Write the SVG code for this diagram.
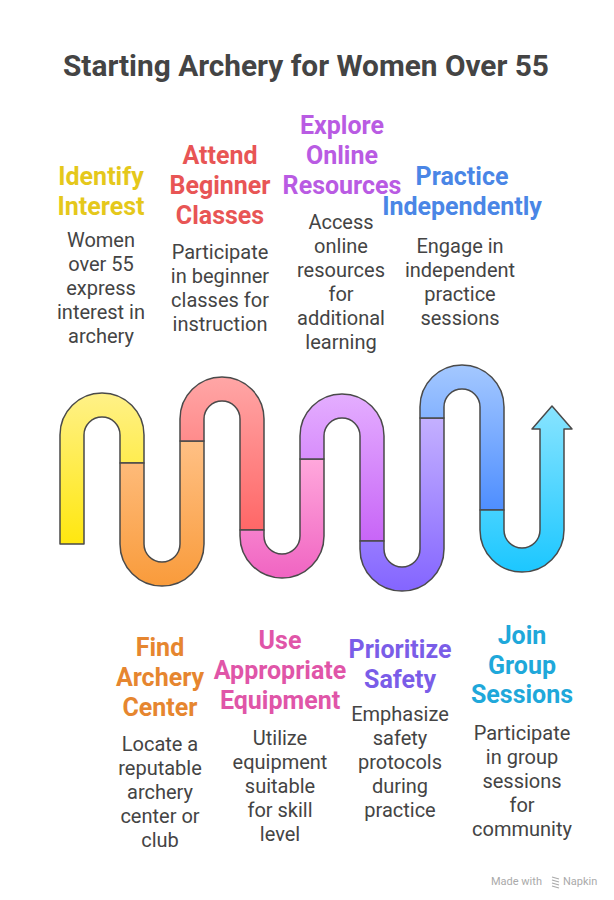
<svg xmlns="http://www.w3.org/2000/svg" width="614" height="900" viewBox="0 0 614 900">
<defs>
<linearGradient id="gY" x1="0" y1="0" x2="0" y2="1"><stop offset="0" stop-color="#FFF188"/><stop offset="1" stop-color="#FFE70F"/></linearGradient>
<linearGradient id="gO" x1="0" y1="0" x2="0" y2="1"><stop offset="0" stop-color="#FFC084"/><stop offset="1" stop-color="#F99B3B"/></linearGradient>
<linearGradient id="gR" x1="0" y1="0" x2="0" y2="1"><stop offset="0" stop-color="#FFA6A6"/><stop offset="1" stop-color="#FF6767"/></linearGradient>
<linearGradient id="gP" x1="0" y1="0" x2="0" y2="1"><stop offset="0" stop-color="#FFA8DC"/><stop offset="1" stop-color="#F064C2"/></linearGradient>
<linearGradient id="gU" x1="0" y1="0" x2="0" y2="1"><stop offset="0" stop-color="#E4AEFF"/><stop offset="1" stop-color="#C865F7"/></linearGradient>
<linearGradient id="gV" x1="0" y1="0" x2="0" y2="1"><stop offset="0" stop-color="#C4B0FF"/><stop offset="1" stop-color="#8465FF"/></linearGradient>
<linearGradient id="gB" x1="0" y1="0" x2="0" y2="1"><stop offset="0" stop-color="#A4C8FF"/><stop offset="1" stop-color="#4E8EFF"/></linearGradient>
<linearGradient id="gC" x1="0" y1="0" x2="0" y2="1"><stop offset="0" stop-color="#88E4FF"/><stop offset="1" stop-color="#1CC7FF"/></linearGradient>
</defs>
<style>
.seg{stroke:#4a4a4a;stroke-width:1.5;stroke-linejoin:round}
.title{font-family:Roboto,"Liberation Sans",sans-serif;font-weight:700;font-size:29.8px;fill:#444;text-anchor:middle}
.h{font-family:Roboto,"Liberation Sans",sans-serif;font-weight:700;font-size:25px;text-anchor:middle}
.d{font-family:Roboto,"Liberation Sans",sans-serif;font-size:20px;fill:#444;text-anchor:middle}
.f{font-family:Roboto,"Liberation Sans",sans-serif;font-size:11px;fill:#aaa}
</style>
<rect width="614" height="900" fill="#fff"/>
<text class="title" x="306" y="76">Starting Archery for Women Over 55</text>

<g id="connectors">
<path class="seg" fill="url(#gY)" d="M60,544 L60,435 A42,42 0 0 1 144,435 L144,463 L120,463 L120,435 A18,18 0 0 0 84,435 L84,544 Z"/>
<path class="seg" fill="url(#gO)" d="M120,463 L120,544 A42,42 0 0 0 204,544 L204,441 L180,441 L180,544 A18,18 0 0 1 144,544 L144,463 Z"/>
<path class="seg" fill="url(#gR)" d="M180,441 L180,419 A42,42 0 0 1 264,419 L264,530 L240,530 L240,419 A18,18 0 0 0 204,419 L204,441 Z"/>
<path class="seg" fill="url(#gP)" d="M240,530 L240,536 A42,42 0 0 0 324,536 L324,459 L300,459 L300,536 A18,18 0 0 1 264,536 L264,530 Z"/>
<path class="seg" fill="url(#gU)" d="M300,459 L300,436 A42,42 0 0 1 384,436 L384,541 L360,541 L360,436 A18,18 0 0 0 324,436 L324,459 Z"/>
<path class="seg" fill="url(#gV)" d="M360,541 L360,549 A42,42 0 0 0 444,549 L444,418 L420,418 L420,549 A18,18 0 0 1 384,549 L384,541 Z"/>
<path class="seg" fill="url(#gB)" d="M420,418 L420,407 A42,42 0 0 1 504,407 L504,510 L480,510 L480,407 A18,18 0 0 0 444,407 L444,418 Z"/>
<path class="seg" fill="url(#gC)" d="M480,510 L480,530 A42,42 0 0 0 564,530 L564,429 L572,429 L552,406 L532,429 L540,429 L540,530 A18,18 0 0 1 504,530 L504,510 Z"/>
</g>

<g id="identify-interest">
<text class="h" fill="#E5C81B" x="101" y="185">Identify</text>
<text class="h" fill="#E5C81B" x="101" y="215">Interest</text>
<text class="d" x="101" y="247">Women</text>
<text class="d" x="101" y="271">over 55</text>
<text class="d" x="101" y="295">express</text>
<text class="d" x="101" y="319">interest in</text>
<text class="d" x="101" y="343">archery</text>
</g>

<g id="attend-beginner-classes">
<text class="h" fill="#E85555" x="220" y="164">Attend</text>
<text class="h" fill="#E85555" x="220" y="194">Beginner</text>
<text class="h" fill="#E85555" x="220" y="224">Classes</text>
<text class="d" x="220" y="259">Participate</text>
<text class="d" x="220" y="283">in beginner</text>
<text class="d" x="220" y="307">classes for</text>
<text class="d" x="220" y="331">instruction</text>
</g>

<g id="explore-online-resources">
<text class="h" fill="#B95BE3" x="342" y="134">Explore</text>
<text class="h" fill="#B95BE3" x="342" y="164">Online</text>
<text class="h" fill="#B95BE3" x="342" y="194">Resources</text>
<text class="d" x="341" y="229">Access</text>
<text class="d" x="341" y="253">online</text>
<text class="d" x="341" y="277">resources</text>
<text class="d" x="341" y="301">for</text>
<text class="d" x="341" y="325">additional</text>
<text class="d" x="341" y="349">learning</text>
</g>

<g id="practice-independently">
<text class="h" fill="#4A86E6" x="462" y="185">Practice</text>
<text class="h" fill="#4A86E6" x="462" y="215">Independently</text>
<text class="d" x="460" y="253">Engage in</text>
<text class="d" x="460" y="277">independent</text>
<text class="d" x="460" y="301">practice</text>
<text class="d" x="460" y="325">sessions</text>
</g>

<g id="find-archery-center">
<text class="h" fill="#E6862F" x="160" y="656">Find</text>
<text class="h" fill="#E6862F" x="160" y="686">Archery</text>
<text class="h" fill="#E6862F" x="160" y="716">Center</text>
<text class="d" x="160" y="751">Locate a</text>
<text class="d" x="160" y="775">reputable</text>
<text class="d" x="160" y="799">archery</text>
<text class="d" x="160" y="823">center or</text>
<text class="d" x="160" y="847">club</text>
</g>

<g id="use-appropriate-equipment">
<text class="h" fill="#E055A8" x="280" y="649">Use</text>
<text class="h" fill="#E055A8" x="280" y="679">Appropriate</text>
<text class="h" fill="#E055A8" x="280" y="709">Equipment</text>
<text class="d" x="280" y="745">Utilize</text>
<text class="d" x="280" y="769">equipment</text>
<text class="d" x="280" y="793">suitable</text>
<text class="d" x="280" y="817">for skill</text>
<text class="d" x="280" y="841">level</text>
</g>

<g id="prioritize-safety">
<text class="h" fill="#7A5DE8" x="400" y="658">Prioritize</text>
<text class="h" fill="#7A5DE8" x="400" y="688">Safety</text>
<text class="d" x="400" y="721">Emphasize</text>
<text class="d" x="400" y="745">safety</text>
<text class="d" x="400" y="769">protocols</text>
<text class="d" x="400" y="793">during</text>
<text class="d" x="400" y="817">practice</text>
</g>

<g id="join-group-sessions">
<text class="h" fill="#1FA8DA" x="522" y="644">Join</text>
<text class="h" fill="#1FA8DA" x="522" y="674">Group</text>
<text class="h" fill="#1FA8DA" x="522" y="703">Sessions</text>
<text class="d" x="522" y="740">Participate</text>
<text class="d" x="522" y="764">in group</text>
<text class="d" x="522" y="788">sessions</text>
<text class="d" x="522" y="812">for</text>
<text class="d" x="522" y="836">community</text>
</g>

<g id="footer">
<text class="f" x="491" y="885">Made with</text>
<path d="M552,877 L559,879 M552,880 L559,882 M552,883 L559,885 M552,886 L559,888" stroke="#aaa" stroke-width="1.2" fill="none"/>
<text class="f" x="563" y="885">Napkin</text>
</g>
</svg>
